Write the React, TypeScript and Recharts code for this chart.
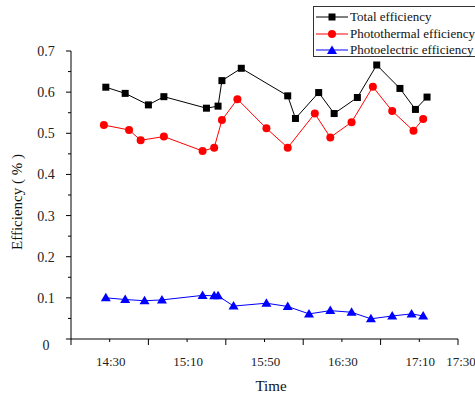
import React from "react";
import { Legend, Line, LineChart, XAxis, YAxis } from "recharts";

// times, one list per series
const totalTimes = ["14:28", "14:38", "14:50", "14:58", "15:20", "15:26", "15:28", "15:38", "16:02", "16:06", "16:18", "16:26", "16:38", "16:48", "17:00", "17:08", "17:14"];
const totalValues = [0.612, 0.597, 0.569, 0.589, 0.561, 0.566, 0.628, 0.658, 0.591, 0.536, 0.599, 0.548, 0.587, 0.666, 0.609, 0.558, 0.588];

const thermalTimes = ["14:27", "14:40", "14:46", "14:58", "15:18", "15:24", "15:28", "15:36", "15:51", "16:02", "16:16", "16:24", "16:35", "16:46", "16:56", "17:07", "17:12"];
const thermalValues = [0.52, 0.508, 0.483, 0.492, 0.457, 0.465, 0.532, 0.583, 0.512, 0.465, 0.548, 0.49, 0.527, 0.613, 0.554, 0.506, 0.535];

const electricTimes = ["14:28", "14:38", "14:48", "14:57", "15:18", "15:24", "15:26", "15:34", "15:51", "16:02", "16:13", "16:24", "16:35", "16:45", "16:56", "17:06", "17:12"];
const electricValues = [0.1, 0.096, 0.093, 0.095, 0.106, 0.105, 0.105, 0.08, 0.087, 0.079, 0.061, 0.069, 0.065, 0.049, 0.056, 0.061, 0.056];

const xTicks = ["14:10", "14:30", "14:50", "15:10", "15:30", "15:50", "16:10", "16:30", "16:50", "17:10", "17:30"];
const xMajorTicks = ["14:10", "14:50", "15:30", "16:10", "16:50", "17:30"];
const xLabels = ["14:30", "15:10", "15:50", "16:30", "17:10", "17:30"];
const yTicks = [0, 0.05, 0.1, 0.15, 0.2, 0.25, 0.3, 0.35, 0.4, 0.45, 0.5, 0.55, 0.6, 0.65, 0.7];
const yLabels = [0, 0.1, 0.2, 0.3, 0.4, 0.5, 0.6, 0.7];

const seriesNames = ["Total efficiency", "Photothermal efficiency", "Photoelectric efficiency"];
const seriesColors = ["#000000", "#ff0000", "#0000ff"];

const FONT = "'Liberation Serif', 'Times New Roman', serif";

const toMinutes = (t: string) => {
  const [h, m] = t.split(":").map(Number);
  return h * 60 + m;
};

const build = (times: string[], values: number[]) =>
  times.map((t, i) => ({ t: toMinutes(t), v: values[i] }));

const totalData = build(totalTimes, totalValues);
const thermalData = build(thermalTimes, thermalValues);
const electricData = build(electricTimes, electricValues);

const majorSet = new Set(xMajorTicks.map(toMinutes));
const labelMap = new Map(xLabels.map((l) => [toMinutes(l), l]));

function XTick(props: any) {
  const { x, y, payload } = props;
  const v = payload.value as number;
  const major = majorSet.has(v);
  const label = labelMap.get(v);
  return (
    <g>
      <line x1={x} x2={x} y1={y} y2={y + (major ? 6 : 3)} stroke="#000" />
      {label && (
        <text x={x + (v === 1050 ? 3 : 1)} y={y + 27} textAnchor="middle" fontFamily={FONT} fontSize={13} fill="#222">
          {label}
        </text>
      )}
    </g>
  );
}

function YTick(props: any) {
  const { x, y, payload } = props;
  const v = payload.value as number;
  const major = yLabels.some((l) => Math.abs(l - v) < 1e-6);
  return (
    <g>
      <line x1={x - (major ? 5 : 3)} x2={x} y1={y} y2={y} stroke="#000" />
      {major && (
        <text x={x - 25} y={y + (v === 0 ? 11 : 5)} textAnchor="middle" fontFamily={FONT} fontSize={14} fill="#222">
          {v === 0 ? "0" : v.toFixed(1)}
        </text>
      )}
    </g>
  );
}

const SquareDot = (props: any) => {
  const { cx, cy, index } = props;
  if (cx == null || cy == null) return null;
  return <rect key={`sq-${index}`} x={cx - 3.5} y={cy - 3.5} width={7} height={7} fill="#000" />;
};

const TriangleDot = (props: any) => {
  const { cx, cy, index } = props;
  if (cx == null || cy == null) return null;
  return (
    <path
      key={`tri-${index}`}
      d={`M${cx},${cy - 5} L${cx + 5},${cy + 3.5} L${cx - 5},${cy + 3.5} Z`}
      fill="#0000ff"
    />
  );
};

function LegendIcon({ i }: { i: number }) {
  const c = seriesColors[i];
  return (
    <svg width={32} height={10} style={{ display: "block" }}>
      <line x1={0} x2={32} y1={5} y2={5} stroke={c} />
      {i === 0 && <rect x={12.5} y={1.5} width={7} height={7} fill={c} />}
      {i === 1 && <circle cx={16} cy={5} r={4} fill={c} />}
      {i === 2 && <path d="M16,0.5 L21,9 L11,9 Z" fill={c} />}
    </svg>
  );
}

function LegendBox() {
  return (
    <div
      style={{
        border: "1px solid #333",
        background: "#fff",
        width: 175,
        height: 51,
        boxSizing: "border-box",
        paddingTop: 2,
        paddingLeft: 2,
      }}
    >
      {seriesNames.map((name, i) => (
        <div key={name} style={{ display: "flex", alignItems: "center", height: 16.5 }}>
          <LegendIcon i={i} />
          <span style={{ fontFamily: FONT, fontSize: 13, color: "#111", marginLeft: 2, whiteSpace: "nowrap" }}>
            {name}
          </span>
        </div>
      ))}
    </div>
  );
}

export default function App() {
  return (
    <div style={{ position: "absolute", left: 0, top: 0, width: 475, height: 394, overflow: "hidden", background: "#fff" }}>
      <LineChart width={475} height={394} margin={{ top: 51, right: 17, left: 0, bottom: 0 }}>
        <XAxis
          type="number"
          dataKey="t"
          domain={[850, 1050]}
          ticks={xTicks.map(toMinutes)}
          interval={0}
          height={55}
          tickSize={0}
          tickMargin={0}
          tickLine={false}
          axisLine={{ stroke: "#000" }}
          tick={<XTick />}
          allowDataOverflow
          label={{
            content: () => (
              <text x={271} y={391} textAnchor="middle" fontFamily={FONT} fontSize={15} fill="#111">
                Time
              </text>
            ),
          }}
        />
        <YAxis
          type="number"
          dataKey="v"
          domain={[0, 0.7]}
          ticks={yTicks}
          interval={0}
          width={71}
          tickSize={0}
          tickMargin={0}
          tickLine={false}
          axisLine={{ stroke: "#000" }}
          tick={<YTick />}
          label={{
            content: () => (
              <text
                x={22}
                y={202}
                transform="rotate(-90, 22, 202)"
                textAnchor="middle"
                fontFamily={FONT}
                fontSize={15}
                fill="#111"
              >
                Efficiency ( % )
              </text>
            ),
          }}
        />
        <Legend
          layout="vertical"
          align="center"
          verticalAlign="middle"
          content={() => <LegendBox />}
          wrapperStyle={{ left: 313, top: 6, width: 175, height: 51 }}
        />
        <Line
          data={totalData}
          dataKey="v"
          name={seriesNames[0]}
          stroke={seriesColors[0]}
          strokeWidth={1}
          dot={SquareDot}
          activeDot={false}
          isAnimationActive={false}
        />
        <Line
          data={thermalData}
          dataKey="v"
          name={seriesNames[1]}
          stroke={seriesColors[1]}
          strokeWidth={1}
          dot={{ r: 4, fill: seriesColors[1], stroke: seriesColors[1], strokeWidth: 0 }}
          activeDot={false}
          isAnimationActive={false}
        />
        <Line
          data={electricData}
          dataKey="v"
          name={seriesNames[2]}
          stroke={seriesColors[2]}
          strokeWidth={1}
          dot={TriangleDot}
          activeDot={false}
          isAnimationActive={false}
        />
      </LineChart>
    </div>
  );
}
